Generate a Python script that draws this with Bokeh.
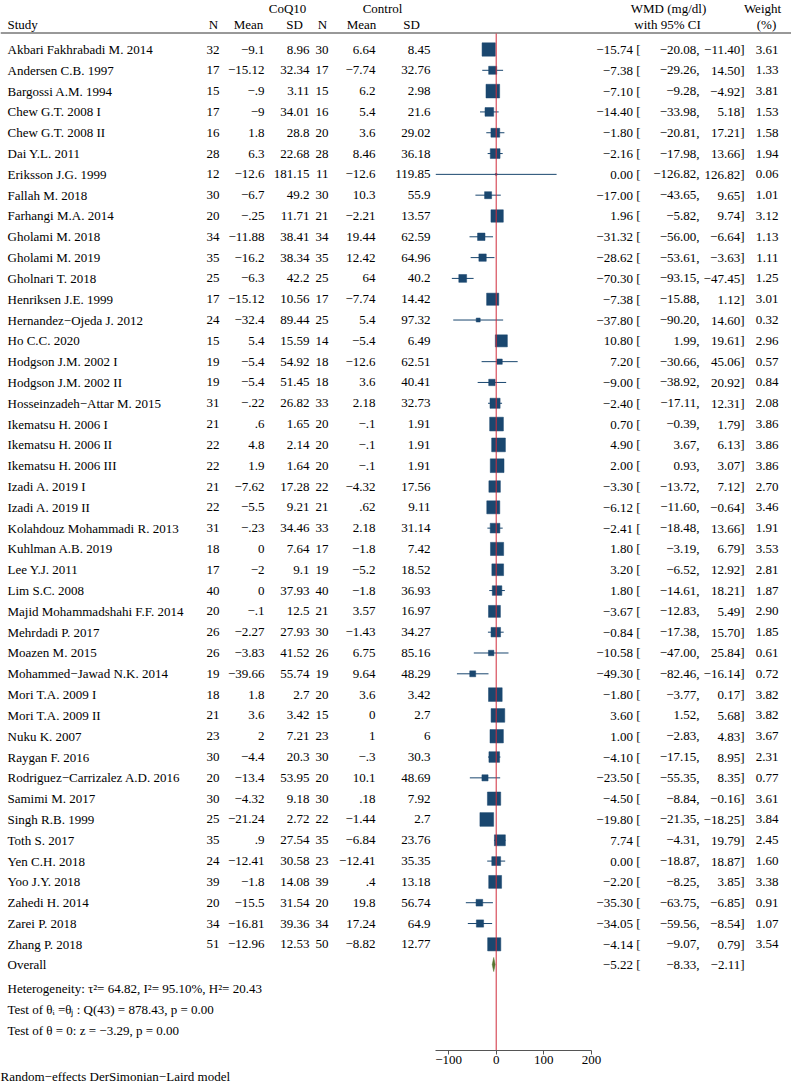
import numpy as np
from bokeh.plotting import figure
from bokeh.models import (Range1d, LinearAxis, FixedTicker, CustomJSTickFormatter,
                          ColumnDataSource, Title)
from bokeh.core.properties import value
from bokeh.embed import file_html
from bokeh.resources import INLINE

# ---------------- data ----------------
studies = [
    "Akbari Fakhrabadi M. 2014", "Andersen C.B. 1997", "Bargossi A.M. 1994",
    "Chew G.T. 2008 I", "Chew G.T. 2008 II", "Dai Y.L. 2011", "Eriksson J.G. 1999",
    "Fallah M. 2018", "Farhangi M.A. 2014", "Gholami M. 2018", "Gholami M. 2019",
    "Gholnari T. 2018", "Henriksen J.E. 1999", "Hernandez\u2212Ojeda J. 2012",
    "Ho C.C. 2020", "Hodgson J.M. 2002 I", "Hodgson J.M. 2002 II",
    "Hosseinzadeh\u2212Attar M. 2015", "Ikematsu H. 2006 I", "Ikematsu H. 2006 II",
    "Ikematsu H. 2006 III", "Izadi A. 2019 I", "Izadi A. 2019 II",
    "Kolahdouz Mohammadi R. 2013", "Kuhlman A.B. 2019", "Lee Y.J. 2011",
    "Lim S.C. 2008", "Majid Mohammadshahi F.F. 2014", "Mehrdadi P. 2017",
    "Moazen M. 2015", "Mohammed\u2212Jawad N.K. 2014", "Mori T.A. 2009 I",
    "Mori T.A. 2009 II", "Nuku K. 2007", "Raygan F. 2016",
    "Rodriguez\u2212Carrizalez A.D. 2016", "Samimi M. 2017", "Singh R.B.  1999",
    "Toth S. 2017", "Yen C.H. 2018", "Yoo J.Y.  2018", "Zahedi H. 2014",
    "Zarei P. 2018", "Zhang P. 2018",
]
n_coq = [32, 17, 15, 17, 16, 28, 12, 30, 20, 34, 35, 25, 17, 24, 15, 19, 19, 31, 21, 22, 22,
         21, 22, 31, 18, 17, 40, 20, 26, 26, 19, 18, 21, 23, 30, 20, 30, 25, 35, 24, 39, 20, 34, 51]
mean_coq = [-9.1, -15.12, -0.9, -9, 1.8, 6.3, -12.6, -6.7, -0.25, -11.88, -16.2, -6.3, -15.12,
            -32.4, 5.4, -5.4, -5.4, -0.22, 0.6, 4.8, 1.9, -7.62, -5.5, -0.23, 0, -2, 0, -0.1,
            -2.27, -3.83, -39.66, 1.8, 3.6, 2, -4.4, -13.4, -4.32, -21.24, 0.9, -12.41, -1.8,
            -15.5, -16.81, -12.96]
sd_coq = [8.96, 32.34, 3.11, 34.01, 28.8, 22.68, 181.15, 49.2, 11.71, 38.41, 38.34, 42.2, 10.56,
          89.44, 15.59, 54.92, 51.45, 26.82, 1.65, 2.14, 1.64, 17.28, 9.21, 34.46, 7.64, 9.1,
          37.93, 12.5, 27.93, 41.52, 55.74, 2.7, 3.42, 7.21, 20.3, 53.95, 9.18, 2.72, 27.54,
          30.58, 14.08, 31.54, 39.36, 12.53]
n_ctl = [30, 17, 15, 16, 20, 28, 11, 30, 21, 34, 35, 25, 17, 25, 14, 18, 18, 33, 20, 20, 20,
         22, 21, 33, 17, 19, 40, 21, 30, 26, 19, 20, 15, 23, 30, 20, 30, 22, 35, 23, 39, 20, 34, 50]
mean_ctl = [6.64, -7.74, 6.2, 5.4, 3.6, 8.46, -12.6, 10.3, -2.21, 19.44, 12.42, 64, -7.74, 5.4,
            -5.4, -12.6, 3.6, 2.18, -0.1, -0.1, -0.1, -4.32, 0.62, 2.18, -1.8, -5.2, -1.8, 3.57,
            -1.43, 6.75, 9.64, 3.6, 0, 1, -0.3, 10.1, 0.18, -1.44, -6.84, -12.41, 0.4, 19.8,
            17.24, -8.82]
sd_ctl = [8.45, 32.76, 2.98, 21.6, 29.02, 36.18, 119.85, 55.9, 13.57, 62.59, 64.96, 40.2, 14.42,
          97.32, 6.49, 62.51, 40.41, 32.73, 1.91, 1.91, 1.91, 17.56, 9.11, 31.14, 7.42, 18.52,
          36.93, 16.97, 34.27, 85.16, 48.29, 3.42, 2.7, 6, 30.3, 48.69, 7.92, 2.7, 23.76, 35.35,
          13.18, 56.74, 64.9, 12.77]
wmd = [-15.74, -7.38, -7.10, -14.40, -1.80, -2.16, 0.00, -17.00, 1.96, -31.32, -28.62, -70.30,
       -7.38, -37.80, 10.80, 7.20, -9.00, -2.40, 0.70, 4.90, 2.00, -3.30, -6.12, -2.41, 1.80,
       3.20, 1.80, -3.67, -0.84, -10.58, -49.30, -1.80, 3.60, 1.00, -4.10, -23.50, -4.50,
       -19.80, 7.74, 0.00, -2.20, -35.30, -34.05, -4.14]
ci_lo = [-20.08, -29.26, -9.28, -33.98, -20.81, -17.98, -126.82, -43.65, -5.82, -56.00, -53.61,
         -93.15, -15.88, -90.20, 1.99, -30.66, -38.92, -17.11, -0.39, 3.67, 0.93, -13.72, -11.60,
         -18.48, -3.19, -6.52, -14.61, -12.83, -17.38, -47.00, -82.46, -3.77, 1.52, -2.83,
         -17.15, -55.35, -8.84, -21.35, -4.31, -18.87, -8.25, -63.75, -59.56, -9.07]
ci_hi = [-11.40, 14.50, -4.92, 5.18, 17.21, 13.66, 126.82, 9.65, 9.74, -6.64, -3.63, -47.45,
         1.12, 14.60, 19.61, 45.06, 20.92, 12.31, 1.79, 6.13, 3.07, 7.12, -0.64, 13.66, 6.79,
         12.92, 18.21, 5.49, 15.70, 25.84, -16.14, 0.17, 5.68, 4.83, 8.95, 8.35, -0.16, -18.25,
         19.79, 18.87, 3.85, -6.85, -8.54, 0.79]
weight = [3.61, 1.33, 3.81, 1.53, 1.58, 1.94, 0.06, 1.01, 3.12, 1.13, 1.11, 1.25, 3.01, 0.32,
          2.96, 0.57, 0.84, 2.08, 3.86, 3.86, 3.86, 2.70, 3.46, 1.91, 3.53, 2.81, 1.87, 2.90,
          1.85, 0.61, 0.72, 3.82, 3.82, 3.67, 2.31, 0.77, 3.61, 3.84, 2.45, 1.60, 3.38, 0.91,
          1.07, 3.54]
overall_wmd, overall_lo, overall_hi = -5.22, -8.33, -2.11
tau2, i2, h2 = 64.82, 95.10, 20.43
q_df, q_stat, q_p = 43, 878.43, 0.00
z_stat, z_p = -3.29, 0.00
axis_ticks = [-100, 0, 100, 200]
axis_max = 200

MINUS = "\u2212"


def fmt_g(v):
    s = f"{v:.2f}".rstrip("0").rstrip(".")
    neg = s.startswith("-")
    if neg:
        s = s[1:]
    if s.startswith("0.") and len(s) > 2:
        s = s[1:]
    if s == "0":
        neg = False
    return (MINUS if neg else "") + s


def fmt_2(v):
    return f"{v:.2f}".replace("-", MINUS)


# ---------------- layout constants (page pixel space) ----------------
W_PX = 791
Y0, DY = 49.0, 20.81
AXIS_Y = 1050.0
ZERO_PX, PX_PER_UNIT = 495.7, 0.4763
FONT = value("Liberation Serif")
FS = "13px"
NAVY = "#1a476f"
GREEN = "#55752f"
RED = "#d02a3a"


def row_of(ypx):
    return (ypx - Y0) / DY


rows = np.arange(len(studies))
src = ColumnDataSource(dict(
    r=rows,
    study=studies,
    n1=[str(v) for v in n_coq], m1=[fmt_g(v) for v in mean_coq], s1=[fmt_g(v) for v in sd_coq],
    n2=[str(v) for v in n_ctl], m2=[fmt_g(v) for v in mean_ctl], s2=[fmt_g(v) for v in sd_ctl],
    es=wmd, lo=ci_lo, hi=ci_hi,
    es_t=[fmt_2(v) + " [" for v in wmd],
    lo_t=[fmt_2(v) + "," for v in ci_lo],
    hi_t=[fmt_2(v) + "]" for v in ci_hi],
    w_t=[f"{v:.2f}" for v in weight],
    bsize=[7.0 * np.sqrt(v) for v in weight],
))

p = figure(frame_width=W_PX, frame_height=int(AXIS_Y),
           x_range=Range1d(0, W_PX),
           y_range=Range1d(row_of(AXIS_Y), row_of(0)),
           x_axis_type=None, y_axis_type=None,
           toolbar_location=None, output_backend="svg",
           min_border=0, outline_line_color=None,
           background_fill_color="white", border_fill_color="white")
p.extra_x_ranges = {"eff": Range1d(-ZERO_PX / PX_PER_UNIT, (W_PX - ZERO_PX) / PX_PER_UNIT)}


def txt(x, y, text, align="left"):
    p.text(x=x, y=y, text=value(text), text_align=align, text_baseline="middle",
           text_font=FONT, text_font_size=FS, text_color="black")


# headers
hy1, hy2 = row_of(7.5), row_of(23.5)
txt(287, hy1, "CoQ10", "center")
txt(382, hy1, "Control", "center")
txt(668, hy1, "WMD (mg/dl)", "center")
txt(762, hy1, "Weight", "center")
txt(7, hy2, "Study")
for xc, lab in [(213, "N"), (248, "Mean"), (294, "SD"), (322, "N"), (361, "Mean"), (411, "SD")]:
    txt(xc, hy2, lab, "center")
txt(667, hy2, "with 95% CI", "center")
txt(766, hy2, "(%)", "center")

p.segment(x0=0, y0=row_of(32.5), x1=W_PX, y1=row_of(32.5), line_color="#333333", line_width=1)

# table columns
for xc, col, al in [(7, "study", "left"), (219, "n1", "right"), (264, "m1", "right"),
                    (309, "s1", "right"), (328, "n2", "right"), (375, "m2", "right"),
                    (430, "s2", "right"), (640, "es_t", "right"), (699, "lo_t", "right"),
                    (744, "hi_t", "right"), (778, "w_t", "right")]:
    p.text(x=xc, y="r", text=col, source=src, text_align=al, text_baseline="middle",
           text_font=FONT, text_font_size=FS, text_color="black")

# forest marks
p.segment(x0="lo", y0="r", x1="hi", y1="r", source=src, x_range_name="eff",
          line_color=NAVY, line_width=1)
p.scatter(x="es", y="r", size="bsize", marker="square", source=src, x_range_name="eff",
          fill_color=NAVY, line_color=NAVY, line_width=0.5)

# overall
r_ov = row_of(964)
p.patch(x=[overall_lo, overall_wmd, overall_hi, overall_wmd],
        y=[r_ov, r_ov - 0.34, r_ov, r_ov + 0.34], x_range_name="eff",
        fill_color=GREEN, line_color=GREEN, line_width=0.5)
txt(7, r_ov, "Overall")
txt(640, r_ov, fmt_2(overall_wmd) + " [", "right")
txt(699, r_ov, fmt_2(overall_lo) + ",", "right")
txt(744, r_ov, fmt_2(overall_hi) + "]", "right")

txt(7, row_of(988), f"Heterogeneity: \u03c4\u00b2= {tau2:.2f}, I\u00b2= {i2:.2f}%, H\u00b2= {h2:.2f}")
txt(7, row_of(1009), f"Test of \u03b8\u1d62 =\u03b8\u2c7c : Q({q_df}) = {q_stat:.2f}, p = {q_p:.2f}")
txt(7, row_of(1030), f"Test of \u03b8 = 0: z = {fmt_2(z_stat)}, p = {z_p:.2f}")

# null line
p.segment(x0=0, y0=row_of(33), x1=0, y1=row_of(AXIS_Y), x_range_name="eff",
          line_color=RED, line_width=1)

# effect axis
ax = LinearAxis(x_range_name="eff", ticker=FixedTicker(ticks=axis_ticks),
                bounds=(min(ci_lo), axis_max),
                formatter=CustomJSTickFormatter(code="return tick < 0 ? '\u2212' + Math.abs(tick) : String(tick);"),
                major_tick_out=4, major_tick_in=0, minor_tick_out=0, minor_tick_in=0,
                axis_line_color="#555555", major_tick_line_color="#555555",
                major_label_text_font="Liberation Serif", major_label_text_font_size=FS,
                major_label_text_color="black", major_label_standoff=1)
p.add_layout(ax, "below")

foot = Title(text="Random\u2212effects DerSimonian\u2212Laird model", align="left",
             text_font="Liberation Serif", text_font_size=FS, text_font_style="normal",
             text_color="black", standoff=1)
p.add_layout(foot, "below")

open("out.html", "w").write(file_html(p, INLINE))
